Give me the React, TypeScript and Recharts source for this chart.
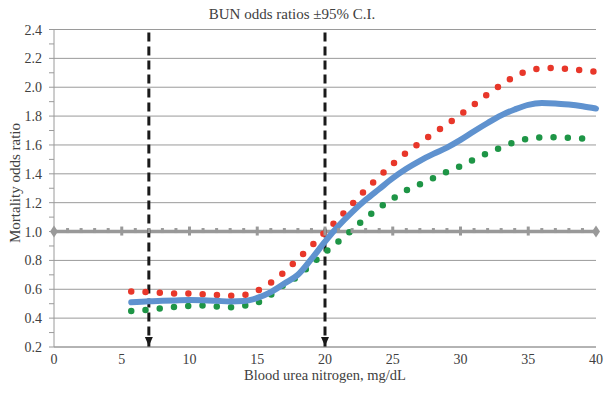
import React from "react";
import {
  LineChart,
  Line,
  XAxis,
  YAxis,
  CartesianGrid,
} from "recharts";

// BUN (mg/dL) sample points
const bun = [
  5.7, 7, 8, 9, 10, 11, 12, 13, 14, 15, 16, 17, 18, 19, 20, 21, 22, 23, 24, 25,
  26, 27, 28, 29, 30, 31, 32, 33, 34, 35, 36, 37, 38, 39, 40,
];
const oddsRatio = [
  0.51, 0.517, 0.52, 0.523, 0.525, 0.524, 0.52, 0.515, 0.518, 0.54, 0.58, 0.64,
  0.7, 0.81, 0.93, 1.04, 1.135, 1.22, 1.295, 1.37, 1.435, 1.49, 1.538, 1.582,
  1.635, 1.695, 1.752, 1.805, 1.846, 1.878, 1.89, 1.888, 1.88, 1.868, 1.852,
];
const upperCI = [
  0.585, 0.58, 0.575, 0.57, 0.57, 0.565, 0.56, 0.555, 0.56, 0.59, 0.645, 0.72,
  0.81, 0.9, 0.995, 1.09, 1.19, 1.29, 1.38, 1.468, 1.547, 1.615, 1.68, 1.743,
  1.811, 1.88, 1.951, 2.016, 2.075, 2.113, 2.13, 2.133, 2.126, 2.117, 2.108,
];
const lowerCI = [
  0.45, 0.459, 0.469, 0.478, 0.485, 0.487, 0.48, 0.476, 0.485, 0.507, 0.561,
  0.633, 0.69, 0.775, 0.855, 0.932, 1.012, 1.093, 1.165, 1.228, 1.285, 1.328,
  1.371, 1.414, 1.454, 1.5, 1.543, 1.583, 1.62, 1.643, 1.652, 1.653, 1.649,
  1.644, 1.64,
];

// reference line OR = 1.0, marked at every integer BUN
const refBun = [
  0, 1, 2, 3, 4, 5, 6, 7, 8, 9, 10, 11, 12, 13, 14, 15, 16, 17, 18, 19, 20, 21,
  22, 23, 24, 25, 26, 27, 28, 29, 30, 31, 32, 33, 34, 35, 36, 37, 38, 39, 40,
];
const refOdds = 1.0;

// cut-off markers (vertical dashed arrows)
const cutoffs = [7, 20];
const cutoffTop = 2.38;
const cutoffBottom = 0.2;

const xTicks = [0, 5, 10, 15, 20, 25, 30, 35, 40];
const yTicks = [
  0.2, 0.3, 0.4, 0.5, 0.6, 0.7, 0.8, 0.9, 1.0, 1.1, 1.2, 1.3, 1.4, 1.5, 1.6,
  1.7, 1.8, 1.9, 2.0, 2.1, 2.2, 2.3, 2.4,
];
const yGrid = [0.2, 0.4, 0.6, 0.8, 1.0, 1.2, 1.4, 1.6, 1.8, 2.0, 2.2, 2.4];

const data = bun.map((x, i) => ({
  x,
  or: oddsRatio[i],
  upper: upperCI[i],
  lower: lowerCI[i],
}));
const refData = refBun.map((x) => ({ x, y: refOdds }));

const FONT = "Liberation Serif";
const TEXT = "#404040";
const GRID = "#9a9a9a";

const XTick = (props: any) => {
  const { x, y, payload } = props;
  return (
    <text
      x={x}
      y={y + 17}
      textAnchor="middle"
      fontFamily={FONT}
      fontSize={14}
      fill={TEXT}
    >
      {payload.value}
    </text>
  );
};

const YTick = (props: any) => {
  const { x, y, payload } = props;
  const v = payload.value as number;
  if (Math.round(v * 10) % 2 !== 0) return <g />;
  return (
    <text
      x={x}
      y={y + 5}
      textAnchor="end"
      fontFamily={FONT}
      fontSize={14}
      fill={TEXT}
    >
      {v.toFixed(1)}
    </text>
  );
};

const RefDot = (props: any) => {
  const { cx, cy, payload, index } = props;
  const fill = "#999999";
  if (payload.x === refBun[0] || payload.x === refBun[refBun.length - 1]) {
    return (
      <polygon
        key={`rd-${index}`}
        points={`${cx - 4},${cy} ${cx},${cy - 6} ${cx + 4},${cy} ${cx},${cy + 6}`}
        fill={fill}
      />
    );
  }
  const big = payload.x % 5 === 0;
  return (
    <rect
      key={`rd-${index}`}
      x={cx - 1.5}
      y={big ? cy - 5 : cy - 3.5}
      width={3}
      height={big ? 9 : 5}
      fill={fill}
    />
  );
};

const ArrowDot = (props: any) => {
  const { cx, cy, index } = props;
  if (index !== 1) return <g key={`ad-${index}`} />;
  return (
    <polygon
      key={`ad-${index}`}
      points={`${cx - 4},${cy - 10} ${cx + 4},${cy - 10} ${cx},${cy - 1}`}
      fill="#1a1a1a"
    />
  );
};

export default function App() {
  return (
    <div
      style={{
        position: "absolute",
        left: 0,
        top: 0,
        width: 615,
        height: 396,
        background: "#fff",
        fontFamily: FONT,
        color: TEXT,
      }}
    >
      <LineChart
        width={615}
        height={396}
        data={data}
        margin={{ top: 29.5, right: 19, left: 0, bottom: 25 }}
      >
        <CartesianGrid
          vertical={false}
          horizontalValues={yGrid}
          stroke={GRID}
          strokeWidth={1}
        />
        <XAxis
          dataKey="x"
          type="number"
          domain={[0, 40]}
          ticks={xTicks}
          interval={0}
          height={24}
          tickLine={false}
          axisLine={{ stroke: GRID }}
          tick={XTick}
          tickSize={0}
          tickMargin={0}
        />
        <YAxis
          type="number"
          domain={[0.2, 2.4]}
          ticks={yTicks}
          interval={0}
          width={54}
          tickSize={5}
          tickMargin={7}
          tickLine={{ stroke: GRID }}
          axisLine={{ stroke: GRID }}
          tick={YTick}
        />
        <Line
          data={refData}
          dataKey="y"
          stroke="#999999"
          strokeWidth={3.5}
          dot={RefDot}
          activeDot={false}
          isAnimationActive={false}
        />
        {cutoffs.map((c) => (
          <Line
            key={`cut-${c}`}
            data={[
              { x: c, y: cutoffTop },
              { x: c, y: cutoffBottom },
            ]}
            dataKey="y"
            stroke="#1a1a1a"
            strokeWidth={3}
            strokeDasharray="9 5"
            dot={ArrowDot}
            activeDot={false}
            isAnimationActive={false}
          />
        ))}
        <Line
          dataKey="lower"
          type="monotone"
          stroke="#1e9546"
          strokeWidth={6.5}
          strokeLinecap="round"
          strokeDasharray="0 14.3"
          dot={false}
          activeDot={false}
          isAnimationActive={false}
        />
        <Line
          dataKey="upper"
          type="monotone"
          stroke="#e8372a"
          strokeWidth={6.5}
          strokeLinecap="round"
          strokeDasharray="0 14.3"
          dot={false}
          activeDot={false}
          isAnimationActive={false}
        />
        <Line
          dataKey="or"
          type="monotone"
          stroke="#5f92cf"
          strokeWidth={6}
          strokeLinecap="round"
          dot={false}
          activeDot={false}
          isAnimationActive={false}
        />
      </LineChart>
      <div
        style={{
          position: "absolute",
          left: 142,
          width: 300,
          top: 6,
          textAlign: "center",
          fontSize: 15,
          lineHeight: "17px",
          whiteSpace: "nowrap",
        }}
      >
        BUN odds ratios ±95% C.I.
      </div>
      <div
        style={{
          position: "absolute",
          left: 15,
          top: 182.5,
          transform: "translate(-50%, -50%) rotate(-90deg)",
          fontSize: 15,
          lineHeight: "17px",
          whiteSpace: "nowrap",
        }}
      >
        Mortality odds ratio
      </div>
      <div
        style={{
          position: "absolute",
          left: 175,
          width: 300,
          top: 370,
          textAlign: "center",
          fontSize: 14.5,
          lineHeight: "11px",
          whiteSpace: "nowrap",
        }}
      >
        Blood urea nitrogen, mg/dL
      </div>
    </div>
  );
}
